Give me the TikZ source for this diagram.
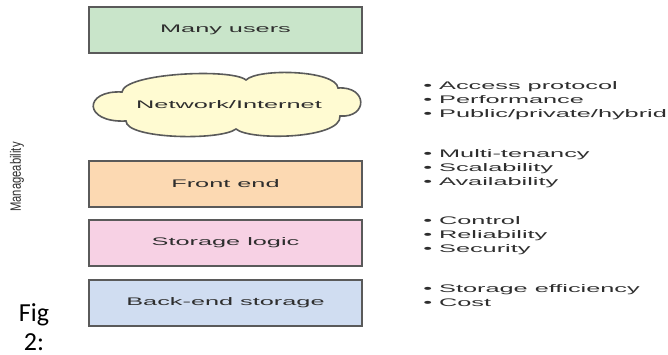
\documentclass[tikz,border=0pt]{standalone}
\usepackage{fontspec}
\setmainfont{Liberation Sans}
\newfontfamily\lblfont[FakeStretch=2.3]{Liberation Sans}
\newfontfamily\narrowfont[FakeStretch=0.75]{Liberation Sans}
\newfontfamily\carlfont{Carlito}
\definecolor{txtgray}{HTML}{2E2E2E}
\definecolor{edgegray}{HTML}{5A5A5A}
\definecolor{usersgreen}{HTML}{C9E5CA}
\definecolor{cloudyellow}{HTML}{FFFBD2}
\definecolor{frontpeach}{HTML}{FCD9B2}
\definecolor{logicpink}{HTML}{F7D1E4}
\definecolor{backblue}{HTML}{D0DDF1}
\tikzset{
  layerbox/.style={draw=edgegray, line width=1.2pt, minimum width=273*0.75pt,
    minimum height=46*0.75pt, inner sep=0pt, text=txtgray,
    font=\lblfont\fontsize{8.25pt}{10pt}\selectfont},
  featuretext/.style={anchor=base west, inner sep=0pt, text=txtgray,
    font=\lblfont\fontsize{8.25pt}{10pt}\selectfont},
}
\begin{document}
\begin{tikzpicture}[x=0.75pt, y=-0.75pt]
\useasboundingbox (0,0) rectangle (668,354);
% layers
\node[layerbox, fill=usersgreen] (users) at (225.5,30) {Many users};
\draw[draw=edgegray, line width=1.2pt, fill=cloudyellow]
  (122,92) .. controls (124,73) and (232,68) .. (246,80)
  .. controls (258,68) and (336,70) .. (338,88)
  .. controls (368,86) and (368,118) .. (340,116)
  .. controls (342,139) and (250,141) .. (236,129)
  .. controls (220,141) and (126,139) .. (126,121)
  .. controls (83,123) and (83,90) .. cycle;
\node[inner sep=0pt, text=txtgray, font=\lblfont\fontsize{8.25pt}{10pt}\selectfont] (net) at (229,105) {Network/Internet};
\node[layerbox, fill=frontpeach] (front) at (225.5,184) {Front end};
\node[layerbox, fill=logicpink] (logic) at (225.5,243) {Storage logic};
\node[layerbox, fill=backblue] (back) at (225.5,303) {Back-end storage};
% features
\node[featuretext] (f1) at (423,89.5) {• Access protocol};
\node[featuretext] (f2) at (423,103.5) {• Performance};
\node[featuretext] (f3) at (423,117.5) {• Public/private/hybrid};
\node[featuretext] (f4) at (423,157) {• Multi-tenancy};
\node[featuretext] (f5) at (423,171) {• Scalability};
\node[featuretext] (f6) at (423,185) {• Availability};
\node[featuretext] (f7) at (423,224.5) {• Control};
\node[featuretext] (f8) at (423,238.5) {• Reliability};
\node[featuretext] (f9) at (423,252.5) {• Security};
\node[featuretext] (f10) at (423,292.5) {• Storage efficiency};
\node[featuretext] (f11) at (423,306.5) {• Cost};
% side labels
\node[rotate=90, inner sep=0pt, text=txtgray, font=\narrowfont\fontsize{11.25pt}{13pt}\selectfont] (manage) at (17,177) {Manageability};
\node[anchor=north, inner sep=0pt, align=center, font=\carlfont\fontsize{19.5pt}{21.75pt}\selectfont] (fig) at (34,303) {Fig\\2:};
\end{tikzpicture}
\end{document}
